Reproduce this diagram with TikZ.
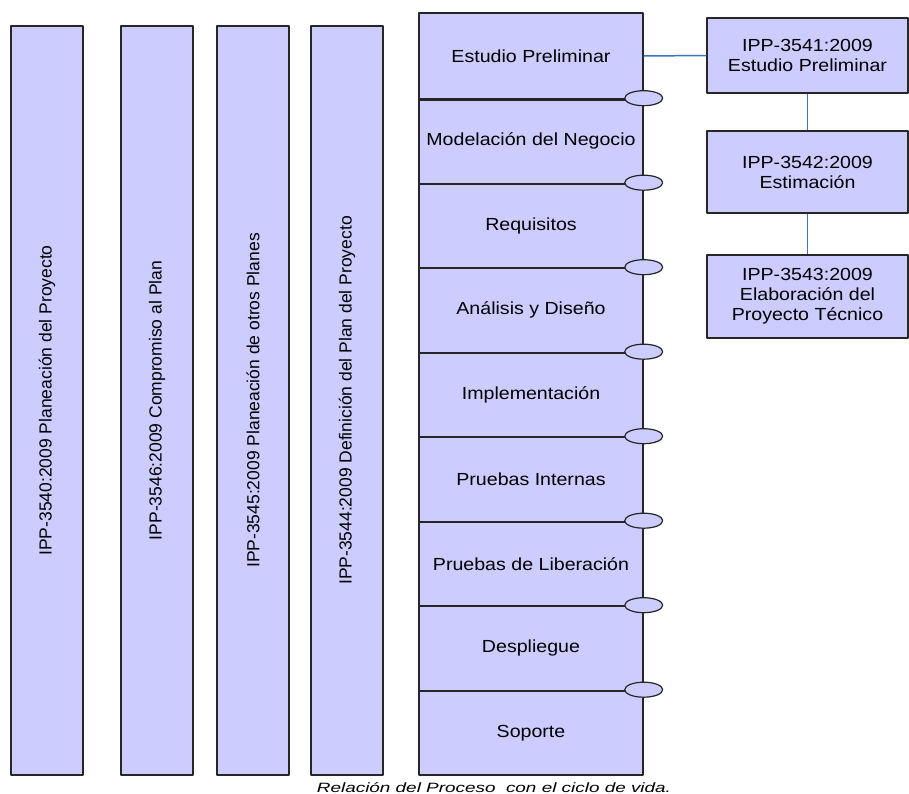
\documentclass[tikz,border=0pt]{standalone}
\usepackage{fontspec}
\setmainfont{Liberation Sans}
\newfontfamily\boxfont{Liberation Sans}[FakeStretch=1.12]
\newfontfamily\capfont{Liberation Sans}[FakeStretch=1.4]
\definecolor{planfill}{HTML}{CCCCFF}
\definecolor{linkblue}{HTML}{3F72C0}
\begin{document}
\begin{tikzpicture}[
  x=1pt,
  y=-1pt,
  line join=round,
  bar/.style={draw=black!85,fill=planfill,line width=1.4pt,rotate=90,
    minimum width=749pt,minimum height=72pt,inner sep=0pt,
    font=\fontsize{17.5}{21}\selectfont},
  phase/.style={draw=black!85,fill=planfill,line width=1.4pt,
    minimum width=224pt,minimum height=84.5pt,inner sep=0pt,
    font=\boxfont\fontsize{17.5}{21}\selectfont},
  procbox/.style={draw=black!85,fill=planfill,line width=1.4pt,
    minimum width=201pt,inner sep=0pt,align=center,
    font=\boxfont\fontsize{17.5}{20}\selectfont},
  divider/.style={draw=black!85,line width=1.4pt},
  eye/.style={draw=black!85,fill=planfill,line width=1.2pt},
  link/.style={draw=linkblue,line width=1.5pt}
]
  \useasboundingbox (0,0) rectangle (909,794);

  % Planning bars, text read bottom to top.
  \node[bar] (p3540) at (47,400.5) {IPP-3540:2009 Planeación del Proyecto};
  \node[bar] (p3546) at (157,400.5) {IPP-3546:2009 Compromiso al Plan};
  \node[bar] (p3545) at (253,400.5) {IPP-3545:2009 Planeación de otros Planes};
  \node[bar] (p3544) at (347,400.5) {IPP-3544:2009 Definición del Plan del Proyecto};

  % Life cycle phases.
  \node[phase,minimum height=86pt] (f1) at (531,56) {Estudio Preliminar};
  \foreach \name [count=\i from 2] in {Modelación del Negocio,Requisitos,
      Análisis y Diseño,Implementación,Pruebas Internas,
      Pruebas de Liberación,Despliegue,Soporte} {
    \node[phase] (f\i) at (531,{99+84.5*(\i-1.5)}) {\name};
  }
  \draw[black!85,line width=2.8pt] (f1.south west) -- (f1.south east);
  \foreach \i in {2,...,8} {
    \draw[divider] (f\i.south west) -- (f\i.south east);
  }
  \foreach \i in {1,...,8} {
    \draw[eye] ([yshift=1.5pt]f\i.south east) ellipse[x radius=19pt,y radius=7.5pt];
  }

  % Sub-processes of the first phase.
  \node[procbox,minimum height=75pt] (s3541) at (807.5,55.5) {IPP-3541:2009\\Estudio Preliminar};
  \node[procbox,minimum height=82pt] (s3542) at (807.5,172) {IPP-3542:2009\\Estimación};
  \node[procbox,minimum height=83pt] (s3543) at (807.5,296.5) {IPP-3543:2009\\Elaboración del\\Proyecto Técnico};

  \draw[link] (f1.east) -- (s3541.west);
  \draw[link] (s3541) -- (s3542);
  \draw[link] (s3542) -- (s3543);

  \node[font=\capfont\itshape\fontsize{13.5}{16}\selectfont,anchor=base] (caption)
    at (494,792) {Relación del Proceso~ con el ciclo de vida.};
\end{tikzpicture}
\end{document}
